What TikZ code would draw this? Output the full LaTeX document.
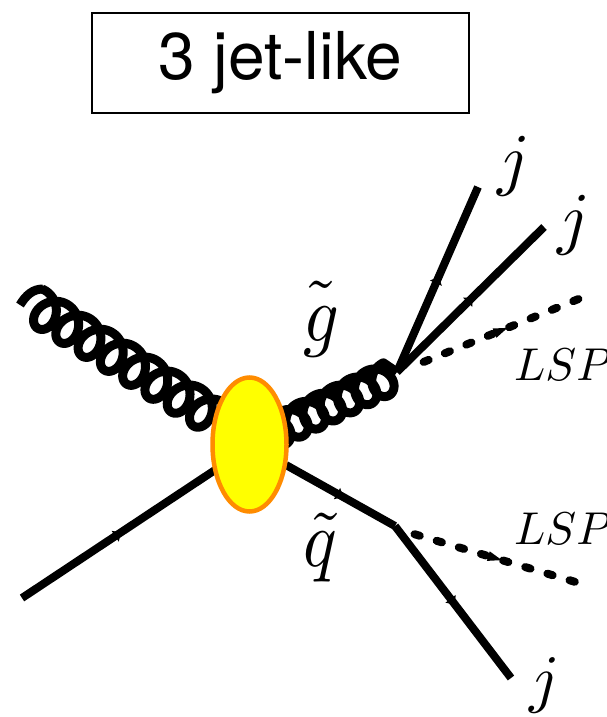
\documentclass[tikz,border=0pt]{standalone}
\usepackage{fontspec}
\setsansfont{TeX Gyre Heros}
\usetikzlibrary{decorations.markings,shapes.geometric}
\definecolor{blobfill}{RGB}{255,255,0}
\definecolor{bloborange}{RGB}{255,140,0}
\tikzset{
  fermion/.style={line width=8pt,draw=black,line cap=butt,postaction={decorate},
    decoration={markings,mark=at position 0.5 with {\fill[black] (3pt,0)--(-4pt,6.5pt)--(-4pt,-6.5pt)--cycle;}}},
  lsp/.style={line width=8pt,draw=black,line cap=round,dash pattern=on 5.5pt off 17.6pt,postaction={decorate},
    decoration={markings,mark=at position 0.5 with {\fill[black,solid] (7pt,0)--(-7pt,5pt)--(-7pt,-5pt)--cycle;}}},
  gluon/.style={line width=9pt,draw=black,line join=round},
  lab/.style={inner sep=0pt,text=black},
}
\begin{document}
\begin{tikzpicture}[x=1pt,y=-1pt]
\useasboundingbox (0,0) rectangle (607,717);
\node[draw=black,line width=1.4pt,minimum width=377pt,minimum height=100pt,inner sep=0pt,
  font=\sffamily\fontsize{66}{68}\selectfont] (title) at (280.5,63) {\raisebox{-5pt}{3 jet-like}};
% vertices
\coordinate (g1s) at (36,306);
\coordinate (g2s) at (270,434);
\coordinate (h1) at (20,305);
\coordinate (v1) at (397,372);
\coordinate (v2) at (395,526);
\coordinate (q1) at (22,598);
\coordinate (q2) at (215,470);
\coordinate (q3) at (286,465);
\coordinate (j1) at (478,187);
\coordinate (j2) at (544,227);
\coordinate (j3) at (511,678);
\coordinate (l1a) at (423.5,362);
\coordinate (l1b) at (578.5,299);
\coordinate (l2a) at (414.5,534.2);
\coordinate (l2b) at (575.5,582);
% gluons
\begin{scope}[shift={(g1s)},x={(0.847pt,-0.531pt)},y={(-0.531pt,-0.847pt)}]
\draw[gluon] plot[domain=-0.2:50.3,samples=500] ({4.186*\x+16*sin(\x r)},{-18*cos(\x r)});
\end{scope}
\draw[gluon] (h1) .. controls (26,295) and (33,289) .. (43,289);
\begin{scope}[shift={(g2s)},x={(0.904pt,0.427pt)},y={(0.427pt,-0.904pt)}]
\draw[gluon] plot[domain=0:43.98,samples=500] ({3.024*\x+15*sin(\x r)},{-16*cos(\x r)}) -- (v1);
\end{scope}
% fermions
\draw[fermion] (q1) -- (q2);
\draw[fermion] (q3) -- (v2);
\draw[fermion] (v2) -- (j3);
\draw[fermion] (v1) -- (j1);
\draw[fermion] (v1) -- (j2);
\draw[lsp] (l1a) -- (l1b);
\draw[lsp] (l2a) -- (l2b);
% blob
\node[draw=bloborange,fill=blobfill,line width=4.5pt,ellipse,minimum width=74pt,minimum height=134pt,inner sep=0pt] (blob) at (249.5,444.5) {};
% labels
\node[lab] (lj1) at (514,166) {\scalebox{7}{$j$}};
\node[lab] (lj2) at (574,225) {\scalebox{7}{$j$}};
\node[lab] (lj3) at (545,685) {\scalebox{6.5}{$j$}};
\node[lab] (lg) at (321,319) {\scalebox{7}[8]{$\tilde{\rule{0pt}{5.2pt}g}$}};
\node[lab] (lq) at (320,548) {\scalebox{7}[8]{$\tilde q$}};
\node[lab,anchor=west] (ll1) at (514,365) {\scalebox{4.6}{$LSP$}};
\node[lab,anchor=west] (ll2) at (514,529) {\scalebox{4.6}{$LSP$}};
\end{tikzpicture}
\end{document}
